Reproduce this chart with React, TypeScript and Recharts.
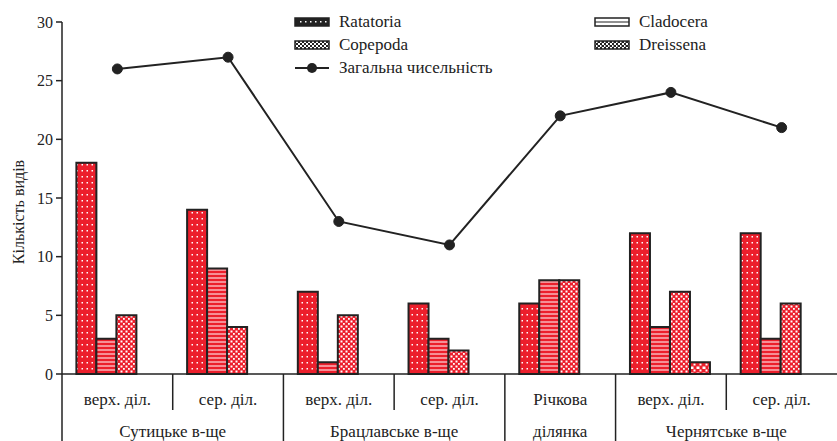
import { Bar, ComposedChart, Line, XAxis, YAxis } from "recharts"

// section names (upper row) and reservoir names (lower row)
const sections = ["верх. діл.", "сер. діл.", "верх. діл.", "сер. діл.", "Річкова", "верх. діл.", "сер. діл."]
const reservoirs = ["Сутицьке в-ще", "", "Брацлавське в-ще", "", "ділянка", "Чернятське в-ще", ""]
const reservoirSpan = [2, 0, 2, 0, 1, 2, 0]

const ratatoria = [18, 14, 7, 6, 6, 12, 12]
const cladocera = [3, 9, 1, 3, 8, 4, 3]
const copepoda = [5, 4, 5, 2, 8, 7, 6]
const dreissena = [0, 0, 0, 0, 0, 1, 0]
const total = [26, 27, 13, 11, 22, 24, 21]

const yTicks = [0, 5, 10, 15, 20, 25, 30]

const data = sections.map((s, i) => ({
  name: `${i}`,
  ratatoria: ratatoria[i],
  cladocera: cladocera[i],
  copepoda: copepoda[i],
  dreissena: dreissena[i],
  total: total[i],
}))

const W = 837
const H = 441
const LEFT = 62
const BAND = (W - LEFT) / 7
const RED = "#ec1f2c"
const INK = "#222"
const FONT = "'Liberation Serif', 'Times New Roman', Times, serif"

function SiteTick(props: any) {
  const { x, y, index } = props
  const left = x - BAND / 2
  const span = reservoirSpan[index]
  const long = span > 0
  return (
    <g>
      <line x1={left} x2={left} y1={y} y2={long ? H : y + 36} stroke={INK} strokeWidth={1.5} />
      <text x={x} y={y + 31} textAnchor="middle" fontSize={17} style={{ fontFamily: FONT }} fill={INK}>
        {sections[index]}
      </text>
      {span > 0 && (
        <text x={left + (span * BAND) / 2} y={y + 63} textAnchor="middle" fontSize={17} style={{ fontFamily: FONT }} fill={INK}>
          {reservoirs[index]}
        </text>
      )}
    </g>
  )
}

function YLabel(props: any) {
  const { viewBox } = props
  const cx = 18
  const cy = viewBox.y + viewBox.height / 2 + 14
  return (
    <text
      x={cx}
      y={cy}
      transform={`rotate(-90 ${cx} ${cy})`}
      textAnchor="middle"
      dominantBaseline="central"
      fontSize={16}
      style={{ fontFamily: FONT }}
      fill={INK}
    >
      Кількість видів
    </text>
  )
}

function Icon({ kind }: { kind: string }) {
  if (kind === "line") {
    return (
      <svg width={36} height={12}>
        <line x1={1} x2={35} y1={6} y2={6} stroke={INK} strokeWidth={2} />
        <circle cx={18} cy={6} r={5} fill={INK} />
      </svg>
    )
  }
  if (kind === "cladocera") {
    return (
      <svg width={36} height={12}>
        <rect x={1} y={2} width={34} height={8} fill="#fff" stroke={INK} strokeWidth={1.5} />
        <line x1={1} x2={35} y1={6} y2={6} stroke={INK} strokeWidth={1.2} />
      </svg>
    )
  }
  return (
    <svg width={36} height={12}>
      <defs>
        <pattern id={`lg-${kind}`} width={4} height={4} patternUnits="userSpaceOnUse">
          <rect width={4} height={4} fill={INK} />
          <rect x={0} y={0} width={2} height={2} fill="#fff" />
          <rect x={2} y={2} width={kind === "dreissena" ? 1.5 : 2} height={2} fill="#fff" />
        </pattern>
      </defs>
      <rect x={1} y={2} width={34} height={8} fill={kind === "ratatoria" ? INK : `url(#lg-${kind})`} stroke={INK} strokeWidth={1.5} />
      {kind === "ratatoria" && [6, 11, 16, 21, 26, 31].map((cx) => <rect key={cx} x={cx} y={5} width={1.5} height={1.5} fill="#fff" />)}
    </svg>
  )
}

const legendLeft = [
  { kind: "ratatoria", label: "Ratatoria" },
  { kind: "copepoda", label: "Copepoda" },
  { kind: "line", label: "Загальна чисельність" },
]
const legendRight = [
  { kind: "cladocera", label: "Cladocera" },
  { kind: "dreissena", label: "Dreissena" },
]

function LegendBox() {
  const col = (items: { kind: string; label: string }[]) => (
    <div style={{ display: "flex", flexDirection: "column", gap: 4 }}>
      {items.map((it) => (
        <div key={it.kind} style={{ display: "flex", alignItems: "center", height: 19 }}>
          <Icon kind={it.kind} />
          <span style={{ marginLeft: 9, fontSize: 17, fontFamily: FONT, color: INK }}>{it.label}</span>
        </div>
      ))}
    </div>
  )
  return (
    <div style={{ position: "absolute", left: 294, top: 12, display: "flex" }}>
      <div style={{ width: 300 }}>{col(legendLeft)}</div>
      {col(legendRight)}
    </div>
  )
}

export default function App() {
  return (
    <div style={{ position: "absolute", left: 0, top: 0, width: W, height: H, background: "#fff" }}>
      <ComposedChart
        width={W}
        height={H}
        data={data}
        margin={{ top: 22, right: 0, left: 0, bottom: 0 }}
        barCategoryGap="13%"
        barGap={0}
      >
        <defs>
          <pattern id="p-rat" width={5} height={6} patternUnits="userSpaceOnUse">
            <rect width={5} height={6} fill={RED} />
            <rect x={1.5} y={2} width={1.5} height={1.5} fill="#fff" />
          </pattern>
          <pattern id="p-cla" width={4} height={4} patternUnits="userSpaceOnUse">
            <rect width={4} height={4} fill={RED} />
            <rect x={0} y={1.5} width={4} height={1} fill="#fff" />
          </pattern>
          <pattern id="p-cop" width={5} height={5} patternUnits="userSpaceOnUse">
            <rect width={5} height={5} fill={RED} />
            <rect x={0.5} y={0.5} width={2} height={2} fill="#fff" />
            <rect x={3} y={3} width={1.8} height={1.8} fill="#fff" />
          </pattern>
          <pattern id="p-dre" width={6} height={6} patternUnits="userSpaceOnUse">
            <rect width={6} height={6} fill={RED} />
            <rect x={0.5} y={0.5} width={3} height={2.5} fill="#fff" />
            <rect x={3.5} y={3.5} width={2} height={2} fill="#fff" />
          </pattern>
        </defs>
        <XAxis
          dataKey="name"
          height={H - 374}
          stroke={INK}
          strokeWidth={1.5}
          tickLine={false}
          tickSize={0}
          tickMargin={0}
          interval={0}
          tick={<SiteTick />}
        />
        <YAxis
          width={LEFT}
          domain={[0, 30]}
          ticks={yTicks}
          stroke={INK}
          strokeWidth={1.5}
          tickSize={6}
          tickMargin={3}
          tick={{ fontSize: 16, fill: INK, style: { fontFamily: FONT } }}
          label={<YLabel />}
        />
        <Bar dataKey="ratatoria" name="Ratatoria" fill="url(#p-rat)" stroke={INK} strokeWidth={2} isAnimationActive={false} />
        <Bar dataKey="cladocera" name="Cladocera" fill="url(#p-cla)" stroke={INK} strokeWidth={2} isAnimationActive={false} />
        <Bar dataKey="copepoda" name="Copepoda" fill="url(#p-cop)" stroke={INK} strokeWidth={2} isAnimationActive={false} />
        <Bar dataKey="dreissena" name="Dreissena" fill="url(#p-dre)" stroke={INK} strokeWidth={2} isAnimationActive={false} />
        <Line
          dataKey="total"
          name="Загальна чисельність"
          stroke={INK}
          strokeWidth={2}
          dot={{ r: 5, fill: INK, stroke: INK, strokeWidth: 1 }}
          isAnimationActive={false}
        />
      </ComposedChart>
      <LegendBox />
    </div>
  )
}
